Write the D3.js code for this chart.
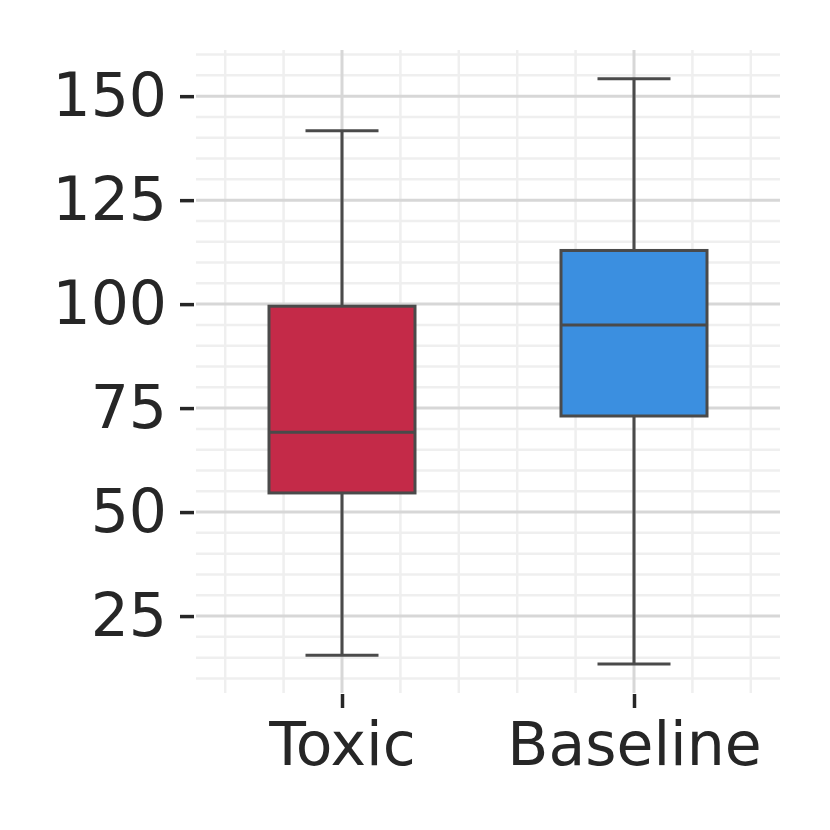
<!DOCTYPE html>
<html><head><meta charset="utf-8">
<script src="https://cdn.jsdelivr.net/npm/d3@7"></script>
<style>body{margin:0;background:#fff}svg{display:block}</style>
</head><body>
<script>
const categories = ["Toxic", "Baseline"];
const whiskerLow = [15.6, 13.5];
const q1 = [54.6, 73.1];
const median = [69.2, 95.0];
const q3 = [99.5, 112.9];
const whiskerHigh = [141.7, 154.2];
const colors = ["#c42a48", "#3b8fe0"];
const yTicks = [25, 50, 75, 100, 125, 150];

const W = 830, H = 830;
const m = {left: 196, right: 780, top: 50, bottom: 693};
const svg = d3.select("body").append("svg").attr("width", W).attr("height", H);

const x = d3.scaleLinear().domain([-0.5, categories.length - 0.5]).range([m.left, m.right]);
const y = d3.scaleLinear().domain([6.5, 161.1]).range([m.bottom, m.top]);

const g = svg.append("g");
// minor grid
const yMinor = d3.range(10, 161, 5).filter(v => v % 25 !== 0);
g.selectAll(".hmin").data(yMinor).enter().append("line")
  .attr("x1", m.left).attr("x2", m.right).attr("y1", d => y(d)).attr("y2", d => y(d))
  .attr("stroke", "#efefef").attr("stroke-width", 2.5);
const xMinor = d3.range(-0.4, 1.45, 0.2).filter(v => Math.abs(v - Math.round(v)) > 0.05);
g.selectAll(".vmin").data(xMinor).enter().append("line")
  .attr("y1", m.top).attr("y2", m.bottom).attr("x1", d => x(d)).attr("x2", d => x(d))
  .attr("stroke", "#efefef").attr("stroke-width", 2.5);
// major grid
g.selectAll(".hmaj").data(yTicks).enter().append("line")
  .attr("x1", m.left).attr("x2", m.right).attr("y1", d => y(d)).attr("y2", d => y(d))
  .attr("stroke", "#d7d7d7").attr("stroke-width", 3);
g.selectAll(".vmaj").data(categories.map((c, i) => i)).enter().append("line")
  .attr("y1", m.top).attr("y2", m.bottom).attr("x1", d => x(d)).attr("x2", d => x(d))
  .attr("stroke", "#d7d7d7").attr("stroke-width", 3);

// axes
const yAxis = d3.axisLeft(y).tickValues(yTicks).tickSize(14).tickPadding(13);
const ya = svg.append("g").attr("transform", `translate(${m.left - 2},0)`).call(yAxis);
ya.select(".domain").remove();
ya.selectAll(".tick line").attr("stroke", "#262626").attr("stroke-width", 3.5);
ya.selectAll("text").attr("fill", "#262626").style("font-family", "DejaVu Sans").style("font-size", "60px");

const xAxis = d3.axisBottom(x).tickValues(categories.map((c, i) => i)).tickFormat((d) => categories[d]).tickSize(14).tickPadding(14);
const xa = svg.append("g").attr("transform", `translate(0,${m.bottom + 1})`).call(xAxis);
xa.select(".domain").remove();
xa.selectAll(".tick line").attr("stroke", "#262626").attr("stroke-width", 3.5);
xa.selectAll("text").attr("fill", "#262626").style("font-family", "DejaVu Sans").style("font-size", "60px");

// boxes
const lc = "#4a4a4a", lw = 3;
const bw = 0.5, cw = 0.25;
categories.forEach((c, i) => {
  const bg = svg.append("g");
  bg.append("line").attr("x1", x(i)).attr("x2", x(i)).attr("y1", y(whiskerLow[i])).attr("y2", y(q1[i]))
    .attr("stroke", lc).attr("stroke-width", lw);
  bg.append("line").attr("x1", x(i)).attr("x2", x(i)).attr("y1", y(q3[i])).attr("y2", y(whiskerHigh[i]))
    .attr("stroke", lc).attr("stroke-width", lw);
  bg.append("line").attr("x1", x(i - cw / 2)).attr("x2", x(i + cw / 2)).attr("y1", y(whiskerLow[i])).attr("y2", y(whiskerLow[i]))
    .attr("stroke", lc).attr("stroke-width", lw);
  bg.append("line").attr("x1", x(i - cw / 2)).attr("x2", x(i + cw / 2)).attr("y1", y(whiskerHigh[i])).attr("y2", y(whiskerHigh[i]))
    .attr("stroke", lc).attr("stroke-width", lw);
  bg.append("rect").attr("x", x(i - bw / 2)).attr("width", x(i + bw / 2) - x(i - bw / 2))
    .attr("y", y(q3[i])).attr("height", y(q1[i]) - y(q3[i]))
    .attr("fill", colors[i]).attr("stroke", lc).attr("stroke-width", lw);
  bg.append("line").attr("x1", x(i - bw / 2)).attr("x2", x(i + bw / 2)).attr("y1", y(median[i])).attr("y2", y(median[i]))
    .attr("stroke", lc).attr("stroke-width", lw);
});
</script>
</body></html>
